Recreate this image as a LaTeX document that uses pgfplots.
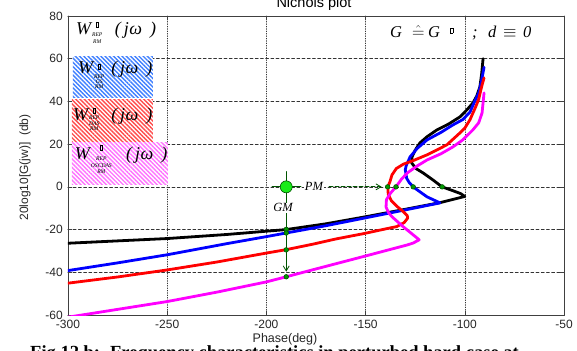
\documentclass[border=0pt]{standalone}
\usepackage{fontspec}
\setmainfont{Liberation Serif}
\setsansfont{Liberation Sans}
\usepackage{amsmath}
\usepackage{pgfplots}
\pgfplotsset{compat=1.18}
\usetikzlibrary{patterns.meta,arrows.meta}

\definecolor{dkgreen}{rgb}{0,0.33,0}
\definecolor{brgreen}{rgb}{0.1,0.92,0.1}
\definecolor{dotgreen}{rgb}{0,0.6,0}
\definecolor{hblue}{rgb}{0.25,0.5,1}
\definecolor{hred}{rgb}{1,0.3,0.3}
\definecolor{hmag}{rgb}{1,0.45,1}
\definecolor{cblue}{rgb}{0,0,1}
\definecolor{cred}{rgb}{1,0,0}
\definecolor{cmag}{rgb}{1,0,1}

\newcommand\gbox{{\setlength\fboxsep{0pt}\setlength\fboxrule{0.35pt}\fbox{\rule{0pt}{4.5pt}\hspace{2.2pt}}}}
\newcommand\Wsym[4]{{\fontsize{18}{18}\selectfont\itshape W}\hspace{1pt}\raisebox{#1}{\fontsize{5.6}{#3}\selectfont\itshape\begin{tabular}[t]{@{}c@{}}\gbox\\[\dimexpr#2-#3\relax]#4\end{tabular}}}
\newcommand\jw{{\fontsize{18}{18}\selectfont\itshape(\hspace{3pt}j\kern0.5ptω\hspace{8pt})}}

\begin{document}
\begin{tikzpicture}
\useasboundingbox (-68pt,-35pt) rectangle (509pt,315pt);
\clip (-68pt,-35pt) rectangle (509pt,315pt);
\begin{axis}[
  scale only axis, width=496pt, height=299pt,
  at={(0,0)}, anchor=south west,
  xmin=-300, xmax=-50, ymin=-60, ymax=80,
  xtick={-300,-250,...,-50}, ytick={-60,-40,...,80},
  grid=major,
  x grid style={black!80, line width=0.6pt, dash pattern=on 0.8pt off 1.6pt},
  y grid style={black!80, line width=0.6pt, dash pattern=on 3pt off 2.2pt},
  axis line style={black!75, line width=0.9pt},
  tick align=inside, major tick length=4pt, tick style={black!75, line width=0.6pt},
  ticklabel style={font=\sffamily\fontsize{12}{12}\selectfont, text=black!85},
  /pgf/number format/assume math mode=true,
  xticklabel style={inner sep=0pt, anchor=north, yshift=-5pt},
  yticklabel style={inner sep=0pt, anchor=east, xshift=-5pt},
  line join=round, line cap=round,
]
% black
\addplot[black, line width=2.8pt] coordinates {
(-90.8,60) (-91.5,53) (-92.4,46.8) (-94,42.5) (-95.9,39.3) (-99,36) (-102.4,32.8) (-108,29.5) (-114,26.7) (-119,23.5) (-122.6,20.6) (-125,17.2) (-126.6,14) (-126.8,11.2) (-124.5,8.5) (-121,6.5) (-116,3.2) (-111.5,0) (-106,-1.8) (-102,-3.2) (-100,-4.5)
(-112.5,-7.4) (-130,-10.5) (-150,-14) (-170,-17.3) (-190,-20) (-220,-22.3) (-250,-24.2) (-275,-25.3) (-300,-26.4)};
% blue
\addplot[cblue, line width=2.8pt] coordinates {
(-90.3,56) (-91.5,50) (-93,44) (-95,40) (-97.4,35) (-101,31.5) (-106,29) (-112,25.5) (-119,22) (-124,18) (-127.6,14) (-129.5,10) (-130,8) (-129.3,4) (-128,2) (-126,0) (-124,-1.4) (-119,-4.7) (-112.5,-7.5)
(-130,-10.8) (-150,-14.5) (-170,-18.2) (-190,-21.6) (-200,-23.3) (-220,-26.6) (-250,-31.8) (-275,-35.6) (-300,-39.2)};
% red
\addplot[cred, line width=2.8pt] coordinates {
(-90.3,51) (-91.2,48) (-92,45) (-93,41) (-94.5,37.5) (-97.4,31.4) (-100,27.5) (-102.4,25.3) (-109,19.7) (-114,17.3) (-119,15) (-126,12.3) (-131,10.6) (-134.5,8.6) (-136.7,5.6) (-137.7,2.5) (-138.8,0) (-138.6,-3.5) (-137,-6.5) (-134,-9.3) (-131,-11.6) (-129,-13.5) (-128.8,-14.6) (-130.5,-16.7) (-134.3,-18.6) (-140,-19.7) (-151,-21.9) (-165,-24.4) (-176.4,-26.8) (-190,-29.4) (-200,-31) (-225,-35.2) (-250,-38.9) (-275,-42.2) (-300,-45.1)};
% magenta
\addplot[cmag, line width=2.8pt] coordinates {
(-90.3,44) (-91.3,34.6) (-93,30) (-95.9,26.7) (-101,22) (-106,18.7) (-112,15.5) (-119,12.6) (-124,9.8) (-129,6.5) (-132,3.5) (-134.7,0) (-137.5,-3) (-139.5,-6) (-139.7,-9.4) (-138.5,-12) (-136.7,-14) (-131,-18.7) (-124,-24) (-123,-24.8) (-126,-26.3) (-129,-27.2) (-140,-29.9) (-151,-32.6) (-165,-36) (-176.5,-38.8) (-190,-42.1) (-200,-44.5) (-225,-49.3) (-250,-53.7) (-293,-60) (-300,-61)};

% PM / GM annotations
\addplot[dkgreen, line width=0.8pt] coordinates {(-197.2,0) (-182.6,0)};
\addplot[dkgreen, line width=0.8pt, dash pattern=on 4pt off 2pt, -{Straight Barb[length=5pt,width=6pt]}] coordinates {(-168.4,0) (-141.9,0)};
\addplot[dkgreen, line width=0.8pt, -{Straight Barb[length=5pt,width=6pt]}] coordinates {(-190,7.2) (-190,-39.7)};
\node[fill=white, inner sep=1pt, font=\itshape\fontsize{12.5}{13}\selectfont] at (axis cs:-176,0) {PM};
\node[fill=white, inner sep=1pt, font=\itshape\fontsize{12.5}{13}\selectfont] at (axis cs:-191.6,-9.8) {GM};
\addplot[only marks, mark=*, mark size=6pt, mark options={fill=brgreen, draw=dkgreen, line width=0.6pt}] coordinates {(-190,0)};
\addplot[only marks, mark=*, mark size=2.3pt, mark options={fill=dotgreen, draw=dkgreen, line width=0.6pt}] coordinates {
(-138.9,0) (-134.7,0) (-126,0) (-111.4,0) (-190,-19.9) (-190,-21.6) (-190,-29.5) (-190,-42.1)};

% legend boxes
\fill[white] (axis cs:-297.5,41.7) rectangle (axis cs:-257.2,60.9);
\fill[pattern={Lines[angle=-45,distance=3pt,line width=1.4pt]}, pattern color=hblue] (axis cs:-297.5,41.7) rectangle (axis cs:-257.2,60.9);
\fill[white] (axis cs:-298,21) rectangle (axis cs:-257.2,40.7);
\fill[pattern={Lines[angle=-45,distance=3pt,line width=1.4pt]}, pattern color=hred] (axis cs:-298,21) rectangle (axis cs:-257.2,40.7);
\fill[white] (axis cs:-298,0.9) rectangle (axis cs:-249.6,20.6);
\fill[pattern={Lines[angle=-45,distance=3pt,line width=1.4pt]}, pattern color=hmag] (axis cs:-298,0.9) rectangle (axis cs:-249.6,20.6);

\node[anchor=base west, inner sep=0pt] at (axis cs:-296,71.2) {\Wsym{8pt}{10pt}{7pt}{REP\\RM}};
\node[anchor=base west, inner sep=0pt] at (axis cs:-276.5,71.2) {\jw};
\node[anchor=base west, inner sep=0pt] at (axis cs:-295,52.9) {\Wsym{5pt}{9pt}{5pt}{REP\\GS\\RM}};
\node[anchor=base west, inner sep=0pt] at (axis cs:-278.3,52.9) {\jw};
\node[anchor=base west, inner sep=0pt] at (axis cs:-297.5,30.9) {\Wsym{8pt}{7pt}{5.5pt}{REP\\DAS\\RM}};
\node[anchor=base west, inner sep=0pt] at (axis cs:-278.3,30.9) {\jw};
\node[anchor=base west, inner sep=0pt] at (axis cs:-296.6,12.6) {\Wsym{10pt}{11pt}{6.5pt}{REP\\OSCDAS\\RM}};
\node[anchor=base west, inner sep=0pt] at (axis cs:-270.8,12.6) {\jw};

\node[anchor=base west, inner sep=0pt] at (axis cs:-137.7,69.8) {\fontsize{16.5}{18}\selectfont\itshape
 \makebox[22pt][l]{G}\makebox[16pt][l]{$\hat{=}$}\makebox[22pt][l]{G}\makebox[22pt][l]{\raisebox{5pt}{\gbox}}\makebox[16pt][l]{;}\makebox[15pt][l]{d}\makebox[20pt][l]{$\equiv$}0};
\end{axis}
\node[anchor=base, inner sep=0pt, font=\sffamily\fontsize{14.5}{15}\selectfont] at (246pt,307pt) {Nichols plot};
\node[rotate=90, inner sep=0pt, font=\sffamily\fontsize{12}{12}\selectfont, text=black!85] at (-43pt,147.5pt) {20log10[G(jw)]\ \ (db)};
\node[anchor=base, inner sep=0pt, font=\sffamily\fontsize{12.5}{13}\selectfont, text=black!85] at (217pt,-27.5pt) {Phase(deg)};
\node[anchor=base west, inner sep=0pt, font=\bfseries\fontsize{18.5}{20}\selectfont] at (-38pt,-43.5pt) {Fig.12.b:\hspace{10pt}Frequency characteristics in perturbed hard case at};
\end{tikzpicture}
\end{document}
